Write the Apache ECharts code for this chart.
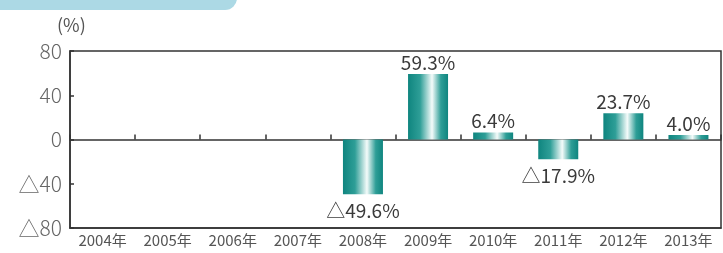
<!DOCTYPE html>
<html>
<head>
<meta charset="utf-8">
<script src="https://cdn.jsdelivr.net/npm/echarts@6/dist/echarts.min.js"></script>
<style>
    html, body { margin: 0; padding: 0; background: #fff; }
    #chart { width: 723px; height: 253px; }
</style>
</head>
<body>
<div id="chart"></div>
<script>
// 年度
const years = ['2004年', '2005年', '2006年', '2007年', '2008年', '2009年', '2010年', '2011年', '2012年', '2013年'];
// 伸び率 (%)
const rates = [null, null, null, null, -49.6, 59.3, 6.4, -17.9, 23.7, 4.0];
const yTicks = [-80, -40, 0, 40, 80];

const fmt = (v) => (v < 0 ? '△' + Math.abs(v) : String(v));
const font = '"Noto Sans CJK JP", "Noto Sans", sans-serif';

// 負の値はラベルを下側に
let seriesData = rates.map((v) => {
    let neg = v !== null && v < 0;
    return {
        value: v,
        label: { position: neg ? 'bottom' : 'top', distance: neg ? 7 : 2 }
    };
});

let myChart = echarts.init(document.getElementById('chart'));
myChart.setOption({
    animation: false,
    graphic: [{
        type: 'rect',
        shape: { x: -20, y: -20, width: 257, height: 30, r: 12 },
        style: { fill: '#acd9e5' }
    }, {
        type: 'text',
        left: 57,
        top: 16,
        style: { text: '(%)', fill: '#555', font: '18px ' + font }
    }],
    grid: {
        left: 70,
        right: 2,
        top: 51,
        bottom: 25,
        show: true,
        borderColor: '#333',
        borderWidth: 1.5
    },
    xAxis: [{
        type: 'category',
        data: years,
        axisLine: { onZero: true, lineStyle: { color: '#333', width: 1.5 } },
        axisTick: { show: true, inside: true, length: 5, lineStyle: { color: '#333', width: 1.5 } },
        axisLabel: { show: false }
    }, {
        type: 'category',
        data: years,
        position: 'bottom',
        axisLine: { onZero: false, lineStyle: { color: '#333', width: 1.5 } },
        axisTick: { show: false },
        axisLabel: { interval: 0, color: '#555', fontSize: 15, fontFamily: font, margin: 5 }
    }],
    yAxis: {
        type: 'value',
        min: yTicks[0],
        max: yTicks[yTicks.length - 1],
        interval: 40,
        splitLine: { show: false },
        axisLine: { show: true, lineStyle: { color: '#333', width: 1.5 } },
        axisTick: { show: true, inside: true, length: 4, lineStyle: { color: '#333', width: 1.5 } },
        axisLabel: { color: '#666', fontSize: 21, fontWeight: 300, fontFamily: font, margin: 8, formatter: fmt }
    },
    series: [{
        type: 'bar',
        data: seriesData,
        barWidth: 40,
        itemStyle: {
            color: new echarts.graphic.LinearGradient(0, 0, 1, 0, [
                { offset: 0, color: '#0f857f' },
                { offset: 0.3, color: '#2e9e97' },
                { offset: 0.6, color: '#f4fbfa' },
                { offset: 0.82, color: '#2e9e97' },
                { offset: 1, color: '#0f857f' }
            ])
        },
        label: {
            show: true,
            color: '#3a3a3a',
            fontSize: 19,
            fontFamily: font,
            formatter: (p) => (p.value < 0 ? '△' + Math.abs(p.value).toFixed(1) : p.value.toFixed(1)) + '%'
        }
    }]
});
</script>
</body>
</html>
